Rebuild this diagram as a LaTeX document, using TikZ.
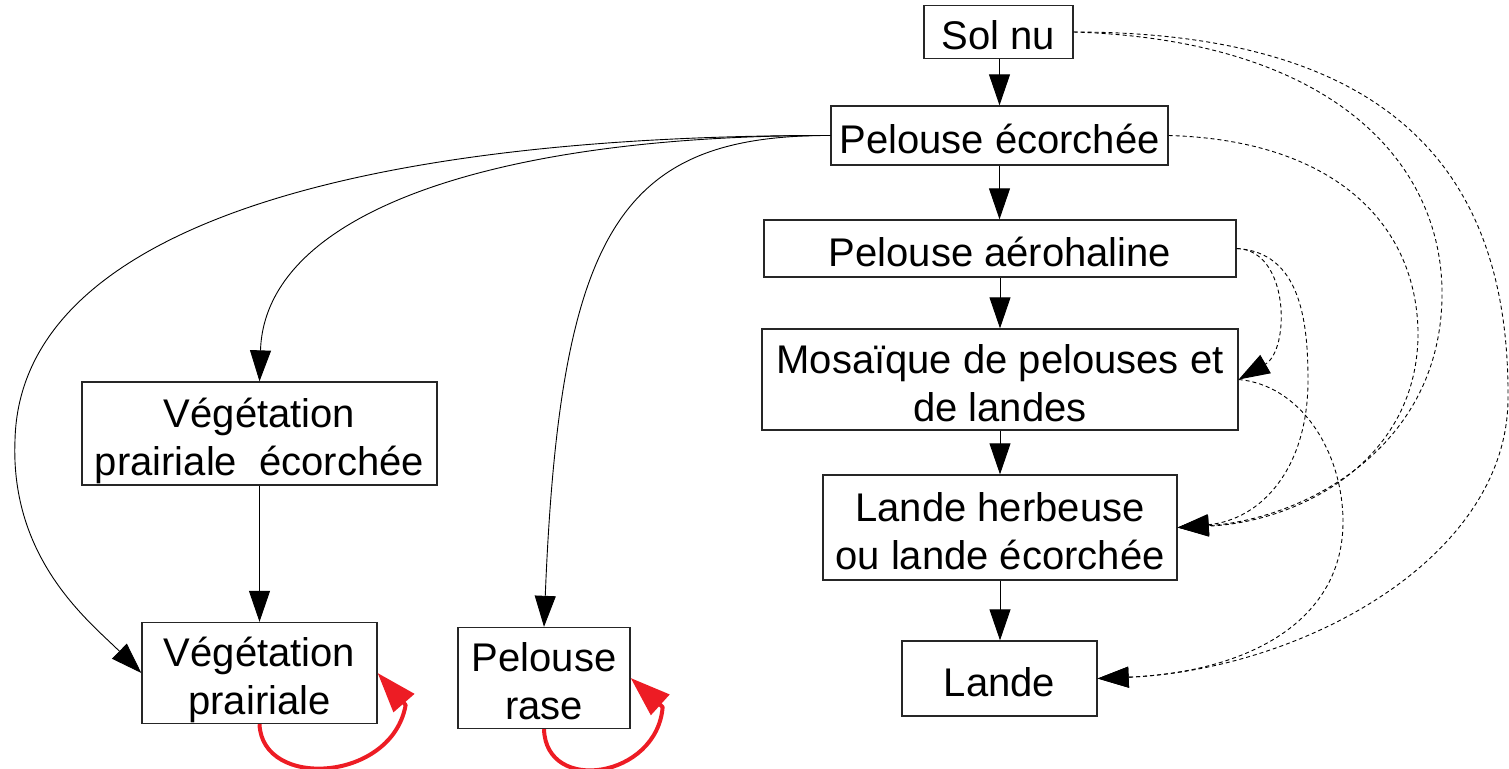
\documentclass[tikz,border=0pt]{standalone}
\usepackage{fontspec}
\setmainfont{Liberation Sans}
\usetikzlibrary{arrows.meta}
\definecolor{loopred}{RGB}{237,28,36}
% fixed line height and depth so every label sits at the same place in its box
\newcommand\tstrut{\rule{0pt}{44pt}}
\newcommand\bstrut{\rule[-9pt]{0pt}{9pt}}
\begin{document}
\begin{tikzpicture}[x=1pt,y=-1pt,
  box/.style={draw=black!85, line width=1.3pt, inner sep=0pt, align=center,
              font=\fontsize{40}{48}\selectfont},
  flow/.style={line width=0.9pt, -{Triangle[length=31pt,width=21pt]}},
  alt/.style={line width=0.9pt, dash pattern=on 4pt off 3pt,
              -{Triangle[length=31pt,width=21pt]}},
  selfloop/.style={draw=loopred, line width=4pt, line join=round,
              -{Triangle[length=40pt,width=27pt]}}]
\useasboundingbox (0,0) rectangle (1509,768);

% succession column
\node[box, minimum width=149pt, minimum height=46pt]  (sol)   at (998.5,32)   {\tstrut Sol nu\bstrut};
\node[box, minimum width=337pt, minimum height=59pt]  (pe)    at (999.5,135.5) {\tstrut Pelouse écorchée\bstrut};
\node[box, minimum width=472pt, minimum height=57pt]  (pa)    at (1000,248.5) {\tstrut Pelouse aérohaline\bstrut};
\node[box, minimum width=476pt, minimum height=95pt]  (mos)   at (1000,379.5) {\tstrut Mosaïque de pelouses et\\de landes\bstrut};
\node[box, minimum width=354pt, minimum height=105pt] (lh)    at (1000,527.5) {\tstrut Lande herbeuse\\ou lande écorchée\bstrut};
\node[box, minimum width=195pt, minimum height=75pt]  (lande) at (999.5,678.5) {\tstrut Lande\bstrut};

% grassland branch
\node[box, minimum width=355pt, minimum height=103pt] (vpe) at (259.5,433.5) {\tstrut Végétation\\prairiale~~écorchée\bstrut};
\node[box, minimum width=235pt, minimum height=98pt]  (vp)  at (259.5,673)  {\tstrut Végétation\\prairiale\bstrut};
\node[box, minimum width=172pt, minimum height=98pt]  (pr)  at (544,678)    {\tstrut Pelouse\\rase\bstrut};

% main sequence
\draw[flow] (pe.north |- sol.south) -- (pe.north);
\draw[flow] (pe.south) -- (pe.south |- pa.north);
\draw[flow] (pa.south) -- (pa.south |- mos.north);
\draw[flow] (mos.south) -- (mos.south |- lh.north);
\draw[flow] (lh.south) -- (lh.south |- lande.north);
\draw[flow] (vpe.south) -- (vp.north);

% branches from the scraped lawn
\draw[flow] (pe.west) .. controls (350,135) and (20,230) .. (15,440)
            .. controls (10,560) and (90,622) .. (vp.west);
\draw[flow] (pe.west) .. controls (500,135) and (265,210) .. (vpe.north);
\draw[flow] (pe.west) .. controls (620,135) and (560,230) .. (pr.north);

% alternative transitions
\draw[alt] (sol.east) .. controls (1400,32) and (1510,180) .. (1508,400)
           .. controls (1506,560) and (1300,670) .. (lande.east);
\draw[alt] (sol.east) .. controls (1330,40) and (1440,160) .. (1442,290)
           .. controls (1444,450) and (1300,520) .. (lh.east);
\draw[alt] (pe.east) .. controls (1330,140) and (1415,220) .. (1418,330)
           .. controls (1420,460) and (1300,522) .. (lh.east);
\draw[alt] (pa.east) .. controls (1290,250) and (1290,350) .. (mos.east);
\draw[alt] (pa.east) .. controls (1300,252) and (1308,320) .. (1308,380)
           .. controls (1308,470) and (1260,520) .. (lh.east);
\draw[alt] (mos.east) .. controls (1300,385) and (1342,450) .. (1343,520)
           .. controls (1344,620) and (1250,672) .. (lande.east);

% stable states
\draw[selfloop] (vp.south) .. controls (262,790) and (392,782)
                .. ([shift={(28,32)}]vp.east) -- (vp.east);
\draw[selfloop] (pr.south) .. controls (546,795) and (657,778)
                .. ([shift={(32,29)}]pr.east) -- (pr.east);
\end{tikzpicture}
\end{document}
